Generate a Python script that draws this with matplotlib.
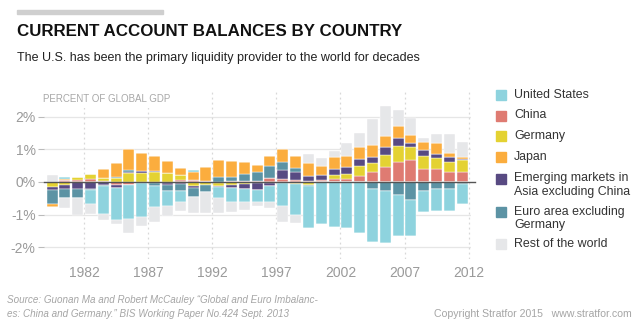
import matplotlib.pyplot as plt
from matplotlib import font_manager
from matplotlib.patches import Rectangle
import numpy as np

# pick a narrow face if the box has one
names = {f.name for f in font_manager.fontManager.ttflist}
NARROW = 'Liberation Sans Narrow' in names
HEAD = 'Liberation Sans Narrow' if NARROW else 'Liberation Sans'
plt.rcParams['font.family'] = ['Liberation Sans', 'DejaVu Sans']

# current account balance, percent of global GDP
years = list(range(1980, 2013))
china = [0.00, 0.05, 0.07, 0.08, 0.04, -0.10, -0.09, -0.02, -0.03, -0.04, 0.05,
         0.06, 0.04, -0.03, 0.03, 0.04, 0.04, 0.11, 0.09, 0.06, 0.04,
         0.06, 0.09, 0.09, 0.18, 0.29, 0.47, 0.62, 0.67, 0.41, 0.39, 0.29, 0.29]
germany = [-0.15, -0.10, 0.08, 0.16, 0.09, 0.13, 0.28, 0.28, 0.29, 0.26, 0.17,
           -0.12, -0.08, -0.08, -0.10, -0.06, -0.04, -0.03, -0.04, -0.06, -0.08,
           0.00, 0.12, 0.15, 0.31, 0.29, 0.36, 0.48, 0.41, 0.37, 0.33, 0.33, 0.37]
em_asia = [-0.10, -0.10, -0.20, -0.20, -0.10, -0.08, 0.04, 0.06, 0.06, -0.05, -0.05,
           -0.05, 0.00, -0.05, -0.08, -0.15, -0.20, -0.10, 0.28, 0.24, 0.14,
           0.15, 0.20, 0.22, 0.20, 0.18, 0.23, 0.23, 0.12, 0.20, 0.14, 0.14, 0.03]
euro_ex_de = [-0.42, -0.30, -0.30, -0.04, -0.02, 0.03, 0.05, 0.00, -0.09, -0.20, -0.23,
              -0.28, -0.23, 0.15, 0.12, 0.20, 0.25, 0.38, 0.25, 0.12, -0.03,
              0.00, 0.00, 0.00, 0.00, -0.20, -0.27, -0.39, -0.55, -0.29, -0.20, -0.22, -0.06]
japan = [-0.10, 0.03, 0.00, 0.00, 0.28, 0.42, 0.63, 0.54, 0.45, 0.38, 0.20,
         0.26, 0.43, 0.52, 0.50, 0.37, 0.23, 0.29, 0.38, 0.38, 0.39,
         0.28, 0.34, 0.33, 0.39, 0.38, 0.35, 0.38, 0.24, 0.24, 0.33, 0.14, 0.08]
us = [0.00, 0.06, 0.00, -0.44, -0.85, -0.98, -1.03, -1.06, -0.66, -0.45, -0.34,
      0.05, 0.00, -0.34, -0.42, -0.40, -0.36, -0.48, -0.70, -0.96, -1.29,
      -1.28, -1.39, -1.42, -1.55, -1.63, -1.60, -1.25, -1.10, -0.63, -0.69, -0.67, -0.61]
rest = [0.21, -0.29, -0.50, -0.30, -0.18, -0.13, -0.45, -0.27, -0.44, -0.30, -0.27,
        -0.50, -0.63, -0.46, -0.32, -0.25, -0.12, -0.20, -0.48, -0.22, 0.29,
        0.23, 0.20, 0.41, 0.43, 0.79, 0.92, 0.49, 0.53, 0.12, 0.27, 0.57, 0.45]

tick_years = [1982, 1987, 1992, 1997, 2002, 2007, 2012]
y_ticks = [-2, -1, 0, 1, 2]
y_labels = ['-2%', '-1%', '0%', '1%', '2%']

C_US = '#8ed3de'
C_CN = '#df7b72'
C_DE = '#e4d232'
C_JP = '#fbad3e'
C_EM = '#584a82'
C_EU = '#5c93a4'
C_RW = '#e6e7e9'

# stacking order as drawn (bottom up from zero)
stack = [(china, C_CN), (germany, C_DE), (em_asia, C_EM), (euro_ex_de, C_EU),
         (japan, C_JP), (us, C_US), (rest, C_RW)]

legend = [('United States', C_US), ('China', C_CN), ('Germany', C_DE), ('Japan', C_JP),
          ('Emerging markets in\nAsia excluding China', C_EM),
          ('Euro area excluding\nGermany', C_EU), ('Rest of the world', C_RW)]

W, H = 640, 328
fig = plt.figure(figsize=(6.4, 3.28), dpi=100)
ax = fig.add_axes([44 / W, 1 - 258.8 / H, 426.5 / W, 170 / H])

x = np.array(years, dtype=float)
pos = np.zeros(len(x))
neg = np.zeros(len(x))
for vals, col in stack:
    v = np.array(vals)
    p = np.where(v > 0, v, 0)
    q = np.where(v < 0, v, 0)
    ax.bar(x, p, bottom=pos, width=0.86, color=col, edgecolor='#ffffff', linewidth=0.3, zorder=2)
    ax.bar(x, q, bottom=neg, width=0.86, color=col, edgecolor='#ffffff', linewidth=0.3, zorder=2)
    pos += p
    neg += q

ax.set_xlim(1979.37, 2012.65)
ax.set_ylim(-2.35, 2.85)

for t in [-2, -1, 1, 2]:
    ax.axhline(t, color='#e6e6e6', lw=0.9, zorder=0)
for t in tick_years:
    ax.axvline(t + 0.5, color='#d8d8d8', lw=0.9, ls=(0, (1.5, 2.5)), zorder=0)
ax.axhline(0, xmax=1.01, color='#555555', lw=1.0, zorder=3, clip_on=False)

ax.set_yticks(y_ticks)
ax.set_yticklabels(y_labels)
ax.set_xticks([t + 0.5 for t in tick_years])
ax.set_xticklabels([str(t) for t in tick_years])
ax.tick_params(axis='y', length=4, width=0.8, color='#bbbbbb', pad=2, labelcolor='#9a9a9a', labelsize=10)
ax.tick_params(axis='x', length=0, pad=5, labelcolor='#9a9a9a', labelsize=10)
for s in ax.spines.values():
    s.set_visible(False)

# unit label sits on a white patch over the grid
ax.text(1979.3, 2.55, 'PERCENT OF GLOBAL GDP', family=HEAD, fontsize=8.7 if NARROW else 7.0,
        color='#a8a8a8', va='center', ha='left', zorder=4,
        bbox=dict(facecolor='white', edgecolor='none', pad=3.5))

# heading
fig.patches.append(Rectangle((17 / W, 1 - 13.5 / H), 146 / W, 3 / H, transform=fig.transFigure,
                             color='#cfcfcf'))
fig.text(17 / W, 1 - 32 / H, 'CURRENT ACCOUNT BALANCES BY COUNTRY', family=HEAD,
         fontsize=15 if NARROW else 12.2, weight='bold', color='#111111', va='center')
fig.text(17 / W, 1 - 58 / H, 'The U.S. has been the primary liquidity provider to the world for decades',
         family=HEAD, fontsize=10.8 if NARROW else 9.0, color='#222222', va='center')

# legend
rows = [95, 115.5, 136, 157, 178.5, 211.5, 244]
for (lab, col), yc in zip(legend, rows):
    fig.patches.append(Rectangle((496 / W, 1 - (yc + 5) / H), 10 / W, 10 / H,
                                 transform=fig.transFigure, color=col))
    fig.text(514 / W, 1 - (yc - 6) / H, lab, fontsize=8.9, color='#333333', va='top',
             linespacing=1.2)

# footer
fig.text(7 / W, 1 - 300 / H, 'Source: Guonan Ma and Robert McCauley \u201cGlobal and Euro Imbalanc-',
         fontsize=7.1, style='italic', color='#a5a5a5', va='center')
fig.text(7 / W, 1 - 314 / H, 'es: China and Germany.\u201d BIS Working Paper No.424 Sept. 2013',
         fontsize=7.1, style='italic', color='#a5a5a5', va='center')
fig.text(632 / W, 1 - 314 / H, 'Copyright Stratfor 2015   www.stratfor.com', fontsize=7.6,
         color='#a5a5a5', ha='right', va='center')

fig.savefig('out.png', dpi=100)
